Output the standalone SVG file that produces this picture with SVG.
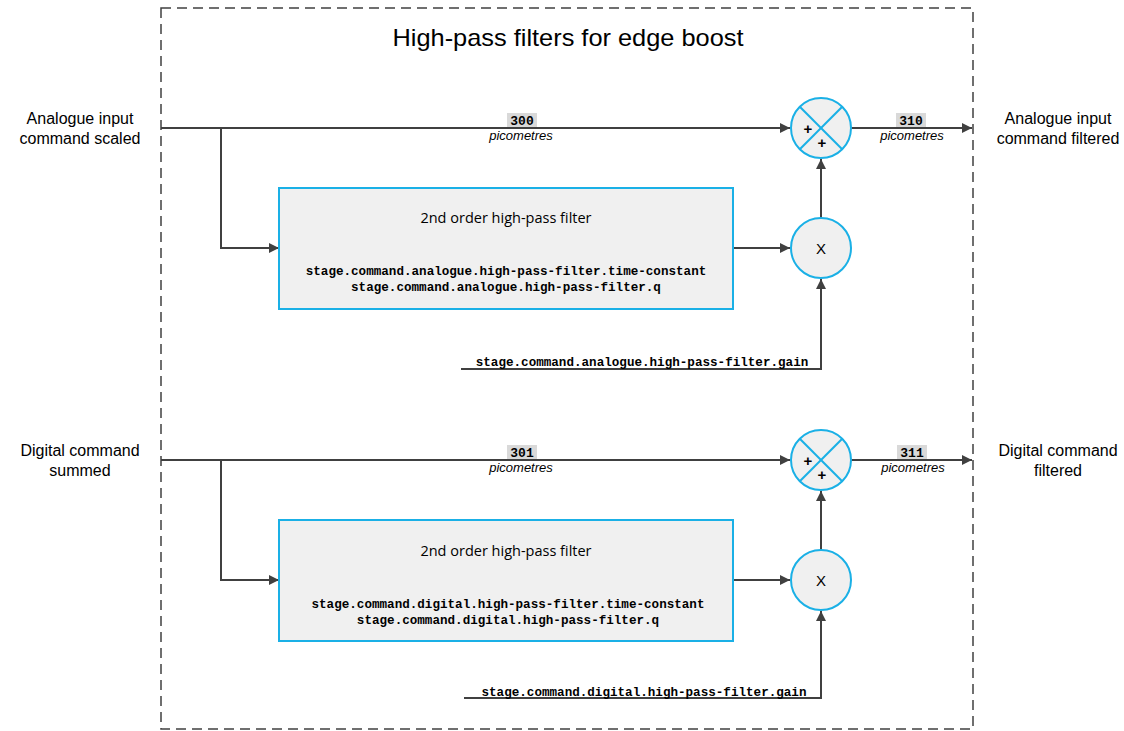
<svg xmlns="http://www.w3.org/2000/svg" width="1124" height="731" viewBox="0 0 1124 731">
  <defs>
    <marker id="arrow" viewBox="0 0 10 10" refX="10" refY="5" markerWidth="10" markerHeight="10" markerUnits="userSpaceOnUse" orient="auto">
      <path d="M0,0 L10,5 L0,10 z" fill="#404040"/>
    </marker>
    <style>
      .wire { fill: none; stroke: #404040; stroke-width: 2; }
      .box { fill: #f0f0f0; stroke: #1ab0e6; stroke-width: 2; }
      .op { fill: #f0f0f0; stroke: #1ab0e6; stroke-width: 2; }
      .cross { stroke: #1ab0e6; stroke-width: 2; }
      .io { font-family: "Liberation Sans", Arial, sans-serif; font-size: 16px; fill: #000; text-anchor: middle; }
      .title { font-family: "Liberation Sans", Arial, sans-serif; font-size: 24px; fill: #000; text-anchor: middle; }
      .blk { font-family: "Open Sans", "Noto Sans", sans-serif; font-size: 14.5px; fill: #000; text-anchor: middle; }
      .param { font-family: "Liberation Mono", "Courier New", monospace; font-size: 12.6px; font-weight: bold; fill: #000; text-anchor: middle; }
      .num { font-family: "Liberation Mono", "Courier New", monospace; font-size: 13px; font-weight: bold; fill: #000; text-anchor: middle; }
      .unit { font-family: "Liberation Sans", Arial, sans-serif; font-size: 13px; font-style: italic; fill: #000; text-anchor: middle; }
      .sign { font-family: "Liberation Sans", Arial, sans-serif; font-size: 15px; font-weight: bold; fill: #000; text-anchor: middle; }
      .mul { font-family: "Liberation Sans", Arial, sans-serif; font-size: 15px; fill: #000; text-anchor: middle; }
    </style>
  </defs>

  <!-- outer dashed frame and title -->
  <rect x="161" y="8" width="812" height="721" fill="none" stroke="#404040" stroke-width="1.5" stroke-dasharray="10,6"/>
  <text class="title" x="568" y="46" textLength="351" lengthAdjust="spacingAndGlyphs">High-pass filters for edge boost</text>

  <!-- external inputs and outputs -->
  <g id="in-analogue">
    <text class="io" x="80" y="124">Analogue input</text>
    <text class="io" x="80" y="144">command scaled</text>
  </g>
  <g id="out-analogue">
    <text class="io" x="1058" y="124">Analogue input</text>
    <text class="io" x="1058" y="144">command filtered</text>
  </g>
  <g id="in-digital">
    <text class="io" x="80" y="456">Digital command</text>
    <text class="io" x="80" y="476">summed</text>
  </g>
  <g id="out-digital">
    <text class="io" x="1058" y="456">Digital command</text>
    <text class="io" x="1058" y="476">filtered</text>
  </g>

  <!-- connectors -->
  <g id="connectors">
    <!-- analogue channel -->
    <path class="wire" d="M161,128 H790" marker-end="url(#arrow)"/>
    <path class="wire" d="M221,128 V248 H279" marker-end="url(#arrow)"/>
    <path class="wire" d="M733,248 H790" marker-end="url(#arrow)"/>
    <path class="wire" d="M821,218 V159" marker-end="url(#arrow)"/>
    <path class="wire" d="M461,369 H821 V279" marker-end="url(#arrow)"/>
    <path class="wire" d="M851,128 H972" marker-end="url(#arrow)"/>
    <!-- digital channel -->
    <path class="wire" d="M161,460 H790" marker-end="url(#arrow)"/>
    <path class="wire" d="M221,460 V580 H279" marker-end="url(#arrow)"/>
    <path class="wire" d="M733,580 H790" marker-end="url(#arrow)"/>
    <path class="wire" d="M821,550 V491" marker-end="url(#arrow)"/>
    <path class="wire" d="M464,698 H821 V611" marker-end="url(#arrow)"/>
    <path class="wire" d="M851,460 H972" marker-end="url(#arrow)"/>

    <!-- signal labels -->
    <rect x="507" y="113" width="30" height="14" fill="#d9d9d9"/>
    <text class="num" x="522" y="125">300</text>
    <text class="unit" x="521" y="140">picometres</text>
    <rect x="896" y="113" width="30" height="14" fill="#d9d9d9"/>
    <text class="num" x="911" y="125">310</text>
    <text class="unit" x="912" y="140">picometres</text>
    <rect x="507" y="445" width="30" height="14" fill="#d9d9d9"/>
    <text class="num" x="522" y="457">301</text>
    <text class="unit" x="521" y="472">picometres</text>
    <rect x="897" y="445" width="30" height="14" fill="#d9d9d9"/>
    <text class="num" x="912" y="457">311</text>
    <text class="unit" x="913" y="472">picometres</text>

    <!-- gain parameters -->
    <text class="param" x="642" y="366">stage.command.analogue.high-pass-filter.gain</text>
    <text class="param" x="644" y="696">stage.command.digital.high-pass-filter.gain</text>
  </g>

  <!-- analogue high-pass filter -->
  <g id="hpf-analogue">
    <rect class="box" x="279" y="188" width="454" height="121"/>
    <text class="blk" x="506" y="223">2nd order high-pass filter</text>
    <text class="param" x="506" y="275">stage.command.analogue.high-pass-filter.time-constant</text>
    <text class="param" x="506" y="291">stage.command.analogue.high-pass-filter.q</text>
  </g>
  <g id="mul-analogue">
    <circle class="op" cx="821" cy="248" r="30"/>
    <text class="mul" x="821" y="254">X</text>
  </g>
  <g id="sum-analogue">
    <circle class="op" cx="821" cy="128" r="30"/>
    <line class="cross" x1="799.8" y1="106.8" x2="842.2" y2="149.2"/>
    <line class="cross" x1="842.2" y1="106.8" x2="799.8" y2="149.2"/>
    <text class="sign" x="808" y="134">+</text>
    <text class="sign" x="822" y="148">+</text>
  </g>

  <!-- digital high-pass filter -->
  <g id="hpf-digital">
    <rect class="box" x="279" y="520" width="454" height="121"/>
    <text class="blk" x="506" y="556">2nd order high-pass filter</text>
    <text class="param" x="508" y="608">stage.command.digital.high-pass-filter.time-constant</text>
    <text class="param" x="508" y="624">stage.command.digital.high-pass-filter.q</text>
  </g>
  <g id="mul-digital">
    <circle class="op" cx="821" cy="580" r="30"/>
    <text class="mul" x="821" y="586">X</text>
  </g>
  <g id="sum-digital">
    <circle class="op" cx="821" cy="460" r="30"/>
    <line class="cross" x1="799.8" y1="438.8" x2="842.2" y2="481.2"/>
    <line class="cross" x1="842.2" y1="438.8" x2="799.8" y2="481.2"/>
    <text class="sign" x="808" y="466">+</text>
    <text class="sign" x="822" y="480">+</text>
  </g>
</svg>
